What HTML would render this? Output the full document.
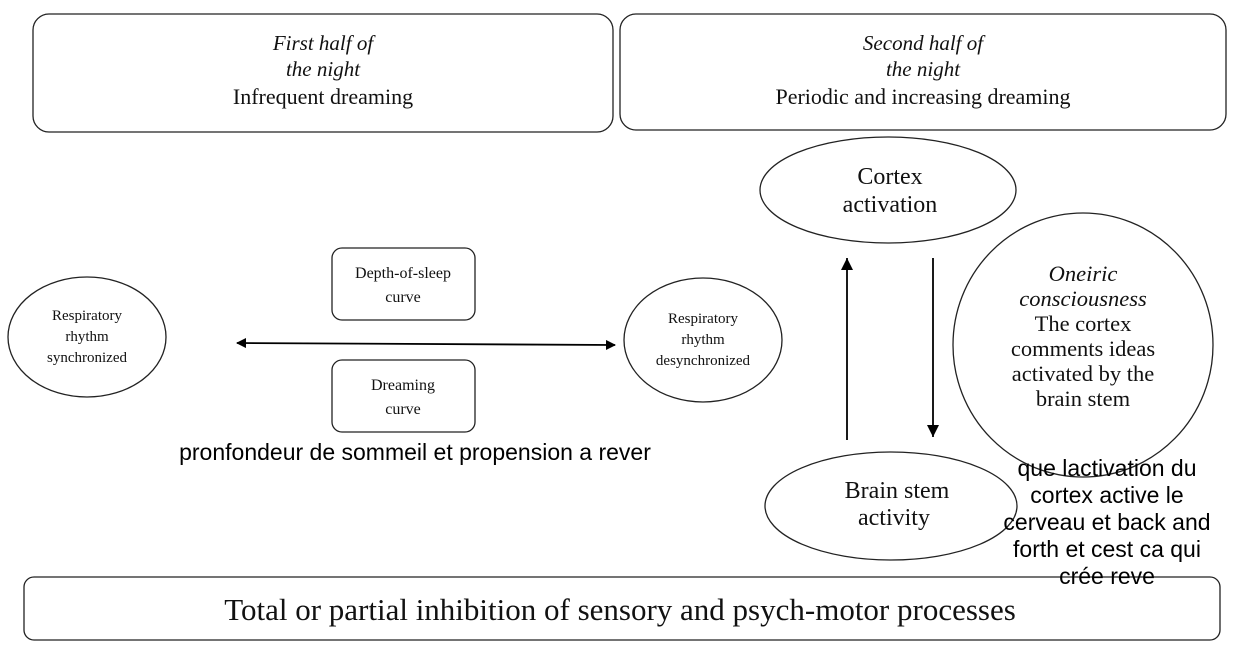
<!DOCTYPE html>
<html><head><meta charset="utf-8"><style>
html,body{margin:0;padding:0;background:#fff;}
svg{display:block}
.s{font-family:"Liberation Serif",serif;fill:#111}
.a{font-family:"Liberation Sans",sans-serif;fill:#000}
</style></head><body>
<svg width="1240" height="646" viewBox="0 0 1240 646" xmlns="http://www.w3.org/2000/svg">
<defs>
<marker id="ah" markerWidth="10" markerHeight="10" refX="9" refY="5" orient="auto-start-reverse" markerUnits="userSpaceOnUse"><path d="M0,0 L10,5 L0,10 z" fill="#000"/></marker>
<marker id="av" markerWidth="12" markerHeight="14" refX="12" refY="6" orient="auto-start-reverse" markerUnits="userSpaceOnUse"><path d="M0,0 L12,6 L0,12 z" fill="#000"/></marker>
</defs>
<g fill="none" stroke="#222" stroke-width="1.3">
<rect x="33" y="14" width="580" height="118" rx="16"/>
<rect x="620" y="14" width="606" height="116" rx="16"/>
<ellipse cx="888" cy="190" rx="128" ry="53"/>
<ellipse cx="1083" cy="345" rx="130" ry="132"/>
<ellipse cx="891" cy="506" rx="126" ry="54"/>
<ellipse cx="87" cy="337" rx="79" ry="60"/>
<ellipse cx="703" cy="340" rx="79" ry="62"/>
<rect x="332" y="248" width="143" height="72" rx="10"/>
<rect x="332" y="360" width="143" height="72" rx="10"/>
<rect x="24" y="577" width="1196" height="63" rx="10"/>
</g>
<g stroke="#000" stroke-width="1.8">
<line x1="237" y1="343" x2="615" y2="345" marker-start="url(#ah)" marker-end="url(#ah)"/>
<line x1="847" y1="440" x2="847" y2="258" marker-end="url(#av)"/>
<line x1="933" y1="258" x2="933" y2="437" marker-end="url(#av)"/>
</g>
<g class="s" text-anchor="middle">
<text x="323" y="50" font-size="21" font-style="italic">First half of</text>
<text x="323" y="76" font-size="21" font-style="italic">the night</text>
<text x="323" y="104" font-size="22">Infrequent dreaming</text>
<text x="923" y="50" font-size="21" font-style="italic">Second half of</text>
<text x="923" y="76" font-size="21" font-style="italic">the night</text>
<text x="923" y="104" font-size="22">Periodic and increasing dreaming</text>
<text x="890" y="184" font-size="24">Cortex</text>
<text x="890" y="212" font-size="24">activation</text>
<text x="1083" y="281" font-size="22.5" font-style="italic">Oneiric</text>
<text x="1083" y="306" font-size="22.5" font-style="italic">consciousness</text>
<text x="1083" y="331" font-size="22.5">The cortex</text>
<text x="1083" y="356" font-size="22.5">comments ideas</text>
<text x="1083" y="381" font-size="22.5">activated by the</text>
<text x="1083" y="406" font-size="22.5">brain stem</text>
<text x="897" y="498" font-size="24">Brain stem</text>
<text x="894" y="525" font-size="24">activity</text>
<text x="87" y="320" font-size="15">Respiratory</text>
<text x="87" y="341" font-size="15">rhythm</text>
<text x="87" y="362" font-size="15">synchronized</text>
<text x="703" y="323" font-size="15">Respiratory</text>
<text x="703" y="344" font-size="15">rhythm</text>
<text x="703" y="365" font-size="15">desynchronized</text>
<text x="403" y="278" font-size="16">Depth-of-sleep</text>
<text x="403" y="302" font-size="16">curve</text>
<text x="403" y="390" font-size="16">Dreaming</text>
<text x="403" y="414" font-size="16">curve</text>
<text x="620" y="620" font-size="31">Total or partial inhibition of sensory and psych-motor processes</text>
</g>
<g class="a" text-anchor="middle" font-size="23">
<text x="415" y="460">pronfondeur de sommeil et propension a rever</text>
<text x="1107" y="476">que lactivation du</text>
<text x="1107" y="503">cortex active le</text>
<text x="1107" y="530">cerveau et back and</text>
<text x="1107" y="557">forth et cest ca qui</text>
<text x="1107" y="584">crée reve</text>
</g>
</svg>
</body></html>
